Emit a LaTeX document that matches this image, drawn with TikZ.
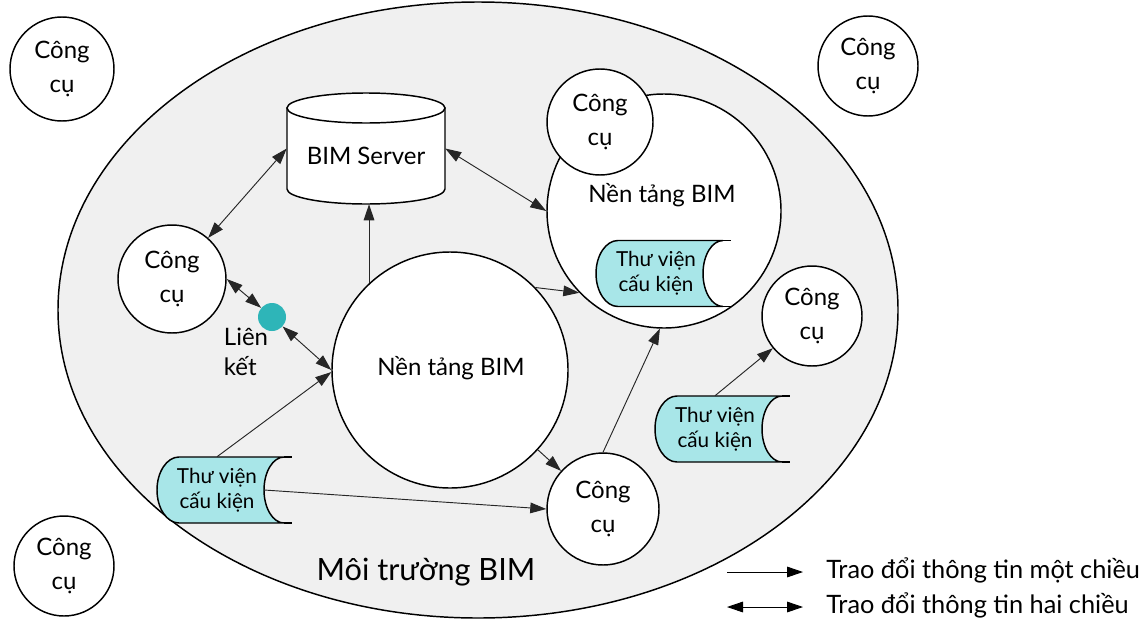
\documentclass[tikz,border=0pt]{standalone}
\usepackage{fontspec}
\setmainfont{Lato}
\usetikzlibrary{arrows.meta,shapes.geometric,calc}
\definecolor{envgray}{HTML}{F0F0F0}
\definecolor{libcyan}{HTML}{A8E6E8}
\definecolor{dotteal}{HTML}{2EB5B8}
\definecolor{flowcol}{HTML}{262626}
\tikzset{
  >={Triangle[length=12pt,width=8pt]},
  shapeline/.style={draw=black,line width=1.1pt},
  tool/.style={circle,shapeline,fill=white,inner sep=0pt,align=center,font=\fontsize{18}{25}\selectfont},
  plat/.style={circle,shapeline,fill=white,inner sep=0pt,minimum size=177pt},
  libnode/.style={rectangle,draw=none,inner sep=0pt,minimum width=90pt,minimum height=49.5pt,align=center,font=\fontsize{15.5}{19}\selectfont},
  libfill/.style={shapeline,fill=libcyan},
  flow/.style={draw=flowcol,line width=0.7pt},
  lbl/.style={inner sep=0pt,align=center,font=\fontsize{18}{25}\selectfont},
}
\newcommand\drawlibshape[1]{%
  \begin{scope}[shift={(#1)}]
    \path[libfill] (-38,-33) -- (67,-33) .. controls (56,-33) and (47,-18.2) .. (47,0)
      .. controls (47,18.2) and (56,33) .. (67,33) -- (-38,33)
      .. controls (-50.1,33) and (-60,18.2) .. (-60,0)
      .. controls (-60,-18.2) and (-50.1,-33) .. (-38,-33) -- cycle;
    \draw[shapeline] (67,-33) -- (75,-33) (67,33) -- (75,33);
  \end{scope}}
\begin{document}
\begin{tikzpicture}[x=0.75pt,y=-0.75pt]
\useasboundingbox[fill=white] (0,0) rectangle (1148,621);
% environment
\node[ellipse,shapeline,fill=envgray,minimum width=630pt,minimum height=462pt,inner sep=0pt] (env) at (478,310) {};
\node[lbl,font=\fontsize{23}{28}\selectfont] (envlabel) at (426,572) {Môi trường BIM};
% outer tools
\node[tool,minimum size=78pt] (tl) at (62,69) {Công\\cụ};
\node[tool,minimum size=75pt] (tr) at (868,66) {Công\\cụ};
\node[tool,minimum size=75pt] (bl) at (64,566) {Công\\cụ};
% BIM server cylinder
\node[rectangle,draw=none,minimum width=118.5pt,minimum height=83.25pt,inner sep=0pt] (srv) at (366,148.5) {};
\begin{scope}[shift={(srv.center)}]
  \path[shapeline,fill=white] (-79,-40.5) -- (-79,40.5) .. controls (-79,48.8) and (-43.6,55.5) .. (0,55.5)
    .. controls (43.6,55.5) and (79,48.8) .. (79,40.5) -- (79,-40.5) -- cycle;
  \path[shapeline,fill=white] (-79,-40.5) .. controls (-79,-48.8) and (-43.6,-55.5) .. (0,-55.5)
    .. controls (43.6,-55.5) and (79,-48.8) .. (79,-40.5)
    .. controls (79,-32.2) and (43.6,-25.5) .. (0,-25.5)
    .. controls (-43.6,-25.5) and (-79,-32.2) .. (-79,-40.5) -- cycle;
\end{scope}
\node[lbl] (srvlabel) at (366,156) {BIM Server};
% platforms
\node[plat] (cc) at (450,370) {};
\node[lbl] (cclabel) at (451,368) {Nền tảng BIM};
\node[plat,minimum size=175.5pt] (rc) at (664,211) {};
\node[lbl] (rclabel) at (662,195) {Nền tảng BIM};
\node[tool,minimum size=79.5pt] (tc) at (600,122) {Công\\cụ};
\coordinate (lib2c) at (656,273.5);
\drawlibshape{lib2c}
\node[libnode] (lib2) at (lib2c) {Thư viện\\cấu kiện};
% left tool and link
\node[tool,minimum size=81pt] (lc) at (172,279) {Công\\cụ};
\node[circle,fill=dotteal,draw=none,minimum size=21pt,inner sep=0pt] (dot) at (272,317) {};
\node[lbl,align=left,font=\fontsize{18}{23}\selectfont] (lk) at (246,352) {Liên\\kết};
% right tool and library
\node[tool,minimum size=75pt] (rcc) at (812,316) {Công\\cụ};
\coordinate (lib3c) at (715,429);
\drawlibshape{lib3c}
\node[libnode] (lib3) at (lib3c) {Thư viện\\cấu kiện};
% lower tool and library
\node[tool,minimum size=84pt] (lcc) at (603,509) {Công\\cụ};
\coordinate (lib1c) at (217,490);
\drawlibshape{lib1c}
\node[libnode] (lib1) at (lib1c) {Thư viện\\cấu kiện};
\coordinate (lib1r) at ($(lib1c)+(47,0)$);
% connectors
\draw[flow,<->] (lc) -- (srv.west);
\draw[flow,<->] (lc.east) -- (dot);
\draw[flow,<->] (dot) -- (cc.west);
\draw[flow,->] (lib1.north) -- (cc.181);
\draw[flow,->] (cc.133) -- (cc.133 |- srv.south);
\draw[flow,<->] (srv.east) -- (rc.west);
\draw[flow,->] (cc.44) -- (rc.224);
\draw[flow,->] (cc) -- (lcc);
\draw[flow,->] (lib1r) -- (lcc.west);
\draw[flow,->] (lcc.north) -- (rc.268);
\draw[flow,->] (lib3.north) -- (rcc);
% legend
\coordinate (l1a) at (727,572);
\coordinate (l1b) at (803,572);
\coordinate (l2a) at (727,607);
\coordinate (l2b) at (803,607);
\draw[flow,draw=black,->] (l1a) -- (l1b);
\draw[flow,draw=black,<->] (l2a) -- (l2b);
\node[lbl,anchor=west,font=\fontsize{19}{25}\selectfont] (l1t) at (826,570) {Trao đổi thông tin một chiều};
\node[lbl,anchor=west,font=\fontsize{19}{25}\selectfont] (l2t) at (826,605) {Trao đổi thông tin hai chiều};
\end{tikzpicture}
\end{document}
